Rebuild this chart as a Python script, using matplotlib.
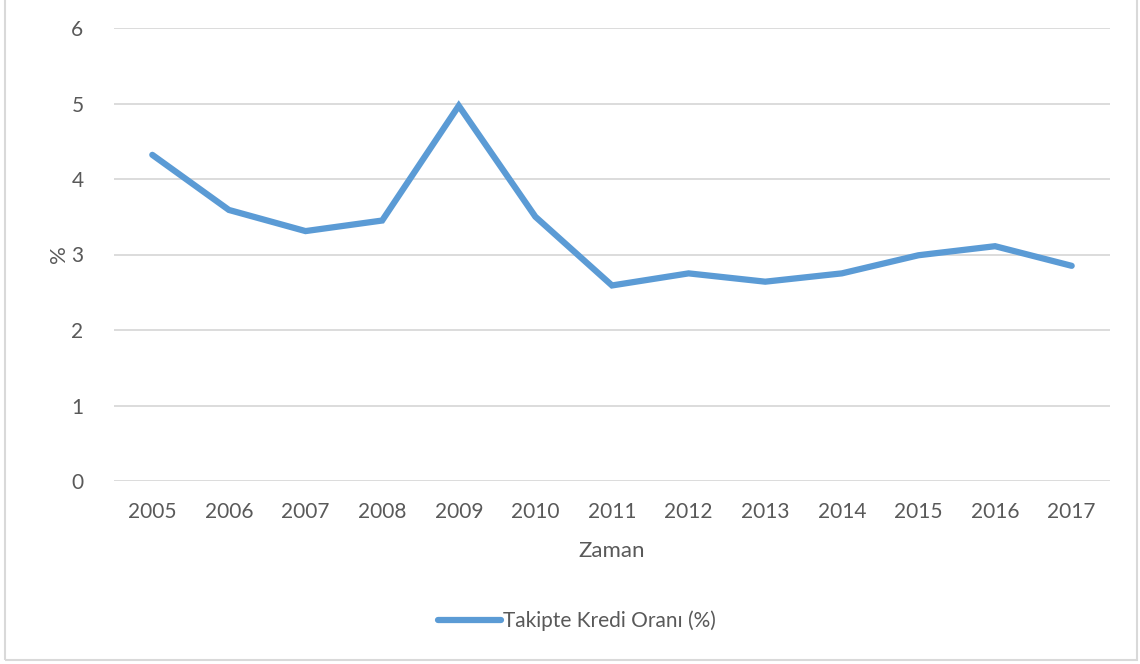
import matplotlib.pyplot as plt
from matplotlib.patches import Rectangle

years = ['2005', '2006', '2007', '2008', '2009', '2010', '2011',
         '2012', '2013', '2014', '2015', '2016', '2017']
npl_ratio = [4.32, 3.59, 3.31, 3.45, 4.97, 3.50, 2.59,
             2.75, 2.64, 2.75, 2.99, 3.11, 2.85]

plt.rcParams['font.family'] = ['Lato', 'DejaVu Sans']
text_color = '#595959'

fig = plt.figure(figsize=(11.4, 6.64), dpi=100)
ax = fig.add_axes([114 / 1140, 1 - 481 / 664, 996 / 1140, 453 / 664])

x = range(len(years))
ax.plot(x, npl_ratio, color='#5B9BD5', linewidth=4.5, solid_capstyle='round',
        solid_joinstyle='miter', label='Takipte Kredi Oranı (%)')

ax.set_xlim(-0.5, len(years) - 0.5)
ax.set_ylim(0, 6)
ax.set_yticks(range(0, 7))
ax.set_xticks(list(x))
ax.set_xticklabels(years)
ax.grid(axis='y', color='#d9d9d9', linewidth=1.3)
ax.set_axisbelow(True)
for s in ax.spines.values():
    s.set_visible(False)
ax.tick_params(length=0, labelsize=15, colors=text_color)
ax.tick_params(axis='x', pad=15)
ax.tick_params(axis='y', pad=22)

ax.set_xlabel('Zaman', fontsize=16, color=text_color, labelpad=14)
ax.set_ylabel('%', fontsize=16, color=text_color, labelpad=2)

leg = fig.legend(loc='center', bbox_to_anchor=(577 / 1140, 1 - 621 / 664), frameon=False,
                 fontsize=15, handlelength=3.0, handletextpad=0.1)
for t in leg.get_texts():
    t.set_color(text_color)

# outer chart border (Excel style)
fig.patches.append(Rectangle((5 / 1140, 1 - 660 / 664), 1132 / 1140, 700 / 664,
                             transform=fig.transFigure, fill=False,
                             edgecolor='#d9d9d9', linewidth=1.5))

fig.savefig('out.png', dpi=100)
